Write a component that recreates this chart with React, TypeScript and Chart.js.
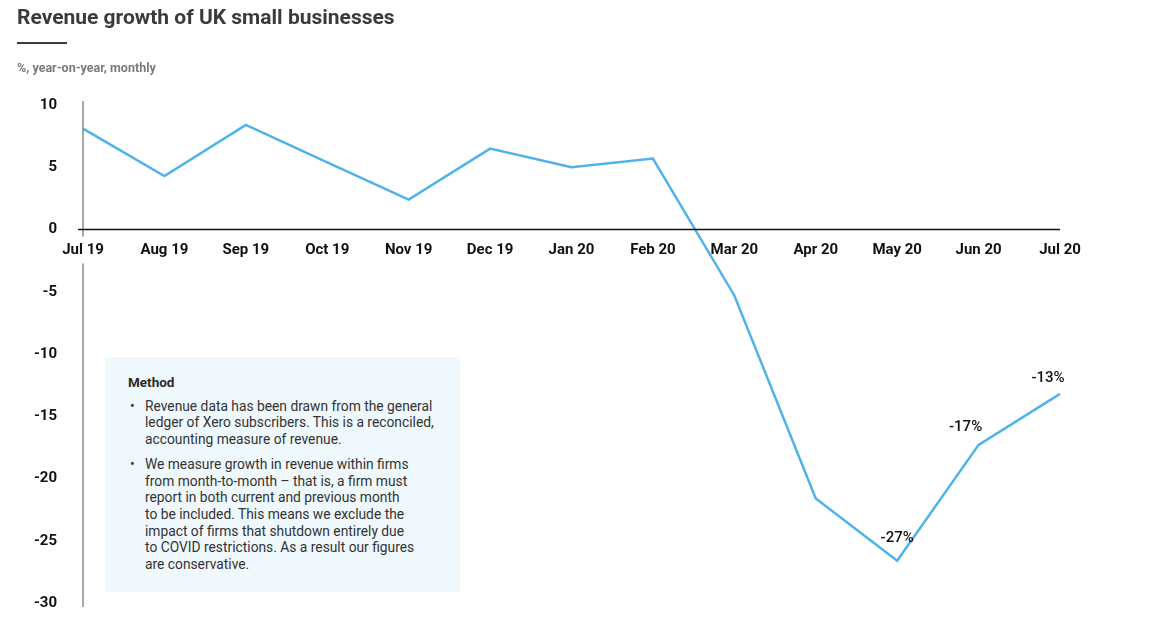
import React, { useEffect, useRef } from "react";
import { Chart, registerables } from "chart.js";

Chart.register(...registerables);

const categories = ["Jul 19", "Aug 19", "Sep 19", "Oct 19", "Nov 19", "Dec 19", "Jan 20", "Feb 20", "Mar 20", "Apr 20", "May 20", "Jun 20", "Jul 20"];
const revenueGrowth = [8.1, 4.3, 8.4, 5.4, 2.4, 6.5, 5.0, 5.7, -5.3, -21.6, -26.6, -17.3, -13.2];
const pointLabels = ["", "", "", "", "", "", "", "", "", "", "-27%", "-17%", "-13%"];
const yTicks = [10, 5, 0, -5, -10, -15, -20, -25, -30];

const FONT = "Roboto, 'Noto Sans', sans-serif";

const overlayPlugin = {
  id: "overlay",
  afterDraw(chart: any) {
    const { ctx, chartArea, scales } = chart;
    const x = scales.x;
    const y = scales.y;
    const y0 = y.getPixelForValue(0);
    ctx.save();
    ctx.strokeStyle = "#8a8a8a";
    ctx.lineWidth = 1.5;
    ctx.beginPath();
    ctx.moveTo(chartArea.left, chartArea.top - 4);
    ctx.lineTo(chartArea.left, y0 + 7);
    ctx.moveTo(chartArea.left, y0 + 34);
    ctx.lineTo(chartArea.left, chartArea.bottom + 4);
    ctx.stroke();
    ctx.strokeStyle = "#111";
    ctx.lineWidth = 1.5;
    ctx.beginPath();
    ctx.moveTo(chartArea.left - 5, y0);
    ctx.lineTo(chartArea.right, y0);
    ctx.stroke();
    ctx.fillStyle = "#111";
    ctx.font = `bold 15px ${FONT}`;
    ctx.textAlign = "center";
    ctx.textBaseline = "middle";
    categories.forEach((c, i) => {
      ctx.fillText(c, x.getPixelForValue(i), y0 + 21);
    });
    ctx.restore();
  },
  afterDatasetsDraw(chart: any) {
    const { ctx } = chart;
    const meta = chart.getDatasetMeta(0);
    ctx.save();
    ctx.fillStyle = "#111";
    ctx.font = `500 15px ${FONT}`;
    ctx.textAlign = "center";
    ctx.textBaseline = "middle";
    const offsets: Record<number, [number, number]> = { 10: [0, -22], 11: [-13, -18], 12: [-12, -16] };
    pointLabels.forEach((l, i) => {
      if (!l) return;
      const p = meta.data[i];
      const o = offsets[i] || [0, -18];
      ctx.fillText(l, p.x + o[0], p.y + o[1]);
    });
    ctx.restore();
  },
};

function ChartCanvas() {
  const ref = useRef<HTMLCanvasElement | null>(null);
  useEffect(() => {
    if (!ref.current) return;
    const chart = new Chart(ref.current, {
      type: "line",
      data: {
        labels: categories,
        datasets: [
          {
            data: revenueGrowth,
            borderColor: "#4fb3ea",
            borderWidth: 2.5,
            pointRadius: 0,
            tension: 0,
            fill: false,
          },
        ],
      },
      options: {
        responsive: false,
        animation: false,
        layout: { padding: { left: 0, top: 105, right: 99, bottom: 22 } },
        plugins: { legend: { display: false }, tooltip: { enabled: false } },
        scales: {
          x: { display: false, offset: false },
          y: {
            min: yTicks[yTicks.length - 1],
            max: yTicks[0],
            afterFit: (s: any) => {
              s.width = 83;
              s.paddingTop = 0;
              s.paddingBottom = 0;
            },
            afterBuildTicks: (s: any) => {
              s.ticks = yTicks.map((v) => ({ value: v }));
            },
            grid: { display: false, drawTicks: false },
            border: { display: false },
            ticks: {
              padding: 26,
              color: "#111",
              font: { family: FONT, size: 15, weight: "bold" },
            },
          },
        },
      },
      plugins: [overlayPlugin],
    });
    return () => chart.destroy();
  }, []);
  return <canvas ref={ref} width={1159} height={625} style={{ position: "absolute", left: 0, top: 0 }} />;
}

const methodBullets = [
  ["Revenue data has been drawn from the general", "ledger of Xero subscribers. This is a reconciled,", "accounting measure of revenue."],
  [
    "We measure growth in revenue within firms",
    "from month-to-month – that is, a firm must",
    "report in both current and previous month",
    "to be included. This means we exclude the",
    "impact of firms that shutdown entirely due",
    "to COVID restrictions. As a result our figures",
    "are conservative.",
  ],
];

export default function App() {
  return (
    <div style={{ position: "fixed", left: 0, top: 0, width: 1159, height: 625, background: "#fff", fontFamily: FONT, overflow: "hidden" }}>
      <ChartCanvas />
      <div style={{ position: "absolute", left: 17, top: 4, fontSize: 21, fontWeight: 700, color: "#3b3b3b", lineHeight: "26px", whiteSpace: "nowrap" }}>
        Revenue growth of UK small businesses
      </div>
      <div style={{ position: "absolute", left: 17, top: 42, width: 50, height: 2, background: "#3b3b3b" }} />
      <div style={{ position: "absolute", left: 17, top: 61, fontSize: 12.5, fontWeight: 700, color: "#7a7a7a", lineHeight: "14px", whiteSpace: "nowrap" }}>
        %, year-on-year, monthly
      </div>
      <div
        style={{
          position: "absolute",
          left: 105,
          top: 357,
          width: 355,
          height: 235,
          background: "#eff8fc",
          boxSizing: "border-box",
          padding: "17px 10px 0 23px",
          color: "#333",
          fontSize: 13.8,
          lineHeight: "16.7px",
        }}
      >
        <div style={{ fontWeight: 700, color: "#2a2a2a", marginBottom: 7, fontSize: 13.5 }}>Method</div>
        {methodBullets.map((lines, bi) => (
          <div key={bi} style={{ position: "relative", paddingLeft: 17, marginBottom: 8 }}>
            <span style={{ position: "absolute", left: 2 }}>•</span>
            {lines.map((ln, li) => (
              <div key={li} style={{ whiteSpace: "nowrap" }}>
                {ln}
              </div>
            ))}
          </div>
        ))}
      </div>
    </div>
  );
}
